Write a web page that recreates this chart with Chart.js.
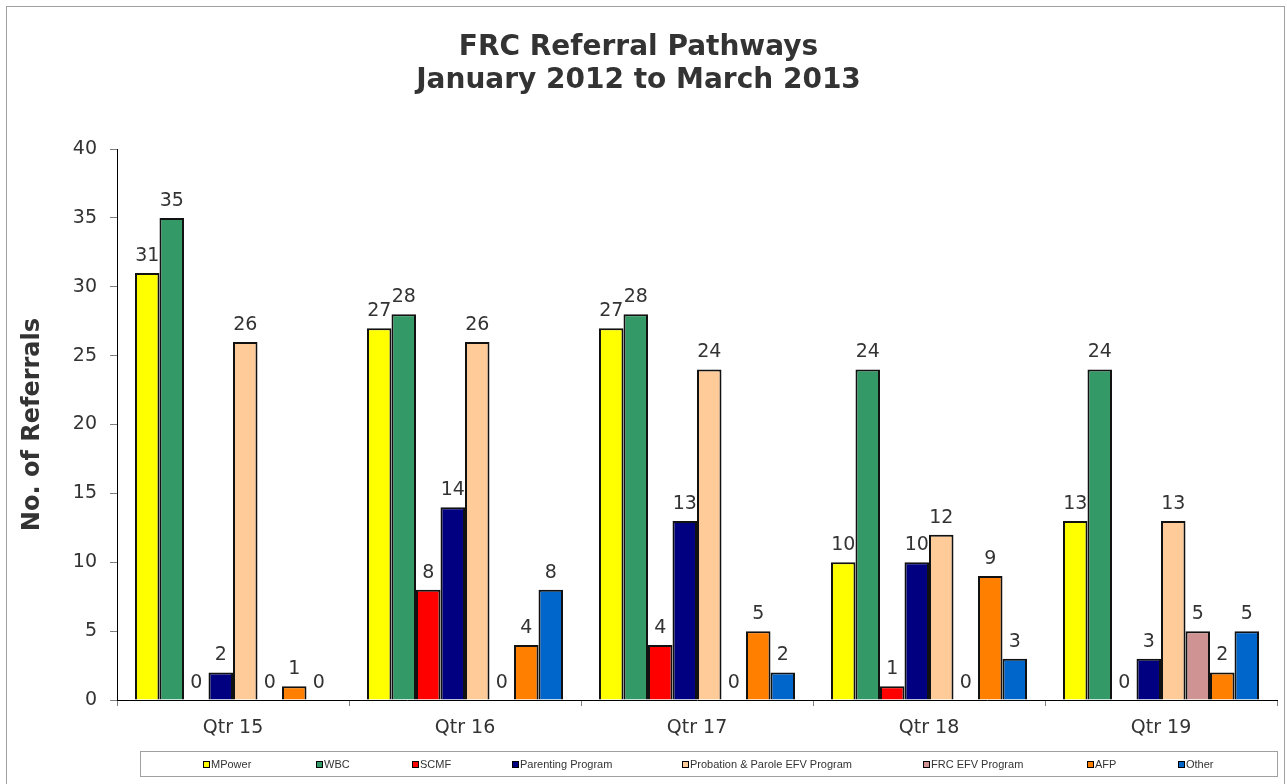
<!DOCTYPE html>
<html>
<head>
<meta charset="utf-8">
<title>FRC Referral Pathways</title>
<script src="https://cdn.jsdelivr.net/npm/chart.js@4.4.1/dist/chart.umd.min.js"></script>
<style>
  html, body { margin: 0; padding: 0; background: #fff; }
  #grafica { display: block; }
</style>
</head>
<body>
<canvas id="grafica" width="1287" height="784"></canvas>
<script>
// Datos
const trimestres = ['Qtr 15', 'Qtr 16', 'Qtr 17', 'Qtr 18', 'Qtr 19'];
const mpower      = [31, 27, 27, 10, 13];
const wbc         = [35, 28, 28, 24, 24];
const scmf        = [0, 8, 4, 1, 0];
const parenting   = [2, 14, 13, 10, 3];
const probation   = [26, 26, 24, 12, 13];
const frcEfv      = [0, 0, 0, 0, 5];
const afp         = [1, 4, 5, 9, 2];
const otros       = [0, 8, 2, 3, 5];
const ticksY      = [0, 5, 10, 15, 20, 25, 30, 35, 40];

const series = [
    { label: 'MPower', data: mpower, color: '#FFFF00' },
    { label: 'WBC', data: wbc, color: '#339966' },
    { label: 'SCMF', data: scmf, color: '#FF0000' },
    { label: 'Parenting Program', data: parenting, color: '#000080' },
    { label: 'Probation & Parole EFV Program', data: probation, color: '#FFCC99' },
    { label: 'FRC EFV Program', data: frcEfv, color: '#D09393' },
    { label: 'AFP', data: afp, color: '#FF8000' },
    { label: 'Other', data: otros, color: '#0066CC' }
];

// posiciones x de los cuadritos de la leyenda (estilo Excel)
const leyendaX = [203, 316, 412, 512, 682, 923, 1087, 1178];

const marco = {
    id: 'marco',
    beforeDraw(chart) {
        const c = chart.ctx;
        c.save();
        c.fillStyle = '#fff';
        c.fillRect(0, 0, chart.width, chart.height);
        c.strokeStyle = '#a0a0a0';
        c.lineWidth = 1;
        c.strokeRect(6.5, 6.5, 1278, 800);
        c.restore();
    }
};

const etiquetas = {
    id: 'etiquetas',
    afterDatasetsDraw(chart) {
        const c = chart.ctx;
        c.save();
        c.font = '19px "DejaVu Sans"';
        c.fillStyle = '#333';
        c.textAlign = 'center';
        c.textBaseline = 'alphabetic';
        chart.data.datasets.forEach((ds, i) => {
            chart.getDatasetMeta(i).data.forEach((bar, j) => {
                c.fillText(ds.data[j], bar.x, bar.y - 12);
            });
        });
        c.restore();
    }
};

const leyenda = {
    id: 'leyenda',
    afterDraw(chart) {
        const c = chart.ctx;
        c.save();
        c.strokeStyle = '#a0a0a0';
        c.lineWidth = 1;
        c.strokeRect(140.5, 751.5, 1137, 25);
        c.font = '11px "Liberation Sans"';
        c.textBaseline = 'middle';
        chart.data.datasets.forEach((ds, i) => {
            const x = leyendaX[i];
            c.fillStyle = ds.backgroundColor;
            c.fillRect(x, 761, 7, 7);
            c.strokeStyle = '#000';
            c.strokeRect(x + 0.5, 761.5, 6, 6);
            c.fillStyle = '#333';
            c.fillText(ds.label, x + 8, 765);
        });
        c.restore();
    }
};

const ctx = document.getElementById('grafica').getContext('2d');

new Chart(ctx, {
    type: 'bar',
    data: {
        labels: trimestres,
        datasets: series.map(s => ({
            label: s.label,
            data: s.data,
            backgroundColor: s.color,
            borderColor: '#111',
            borderWidth: 2,
            categoryPercentage: 0.845,
            barPercentage: 1
        }))
    },
    options: {
        responsive: false,
        animation: false,
        layout: { padding: { left: 0, right: 10, top: 0, bottom: 36 } },
        plugins: {
            legend: { display: false },
            tooltip: { enabled: false },
            title: {
                display: true,
                text: ['FRC Referral Pathways', 'January 2012 to March 2013'],
                color: '#333',
                font: { family: '"DejaVu Sans"', size: 28, weight: 'bold', lineHeight: 1.18 },
                padding: { top: 31, bottom: 52 }
            }
        },
        scales: {
            x: {
                grid: { offset: true, drawOnChartArea: false, tickLength: 6, color: '#808080' },
                border: { color: '#000', width: 1 },
                ticks: { color: '#333', font: { family: '"DejaVu Sans"', size: 19 }, padding: 11 },
                afterFit(scale) { scale.height = 48; }
            },
            y: {
                min: 0,
                max: 40,
                afterBuildTicks(scale) { scale.ticks = ticksY.map(v => ({ value: v })); },
                grid: { drawOnChartArea: false, tickLength: 7, color: '#808080' },
                border: { color: '#000', width: 1 },
                ticks: { color: '#333', font: { family: '"DejaVu Sans"', size: 19 }, padding: 13 },
                title: {
                    display: true,
                    text: 'No. of Referrals',
                    color: '#333',
                    font: { family: '"DejaVu Sans"', size: 24, weight: 'bold' },
                    padding: { top: 18, bottom: 0 }
                },
                afterFit(scale) { scale.width = 117; }
            }
        }
    },
    plugins: [marco, etiquetas, leyenda]
});
</script>
</body>
</html>
